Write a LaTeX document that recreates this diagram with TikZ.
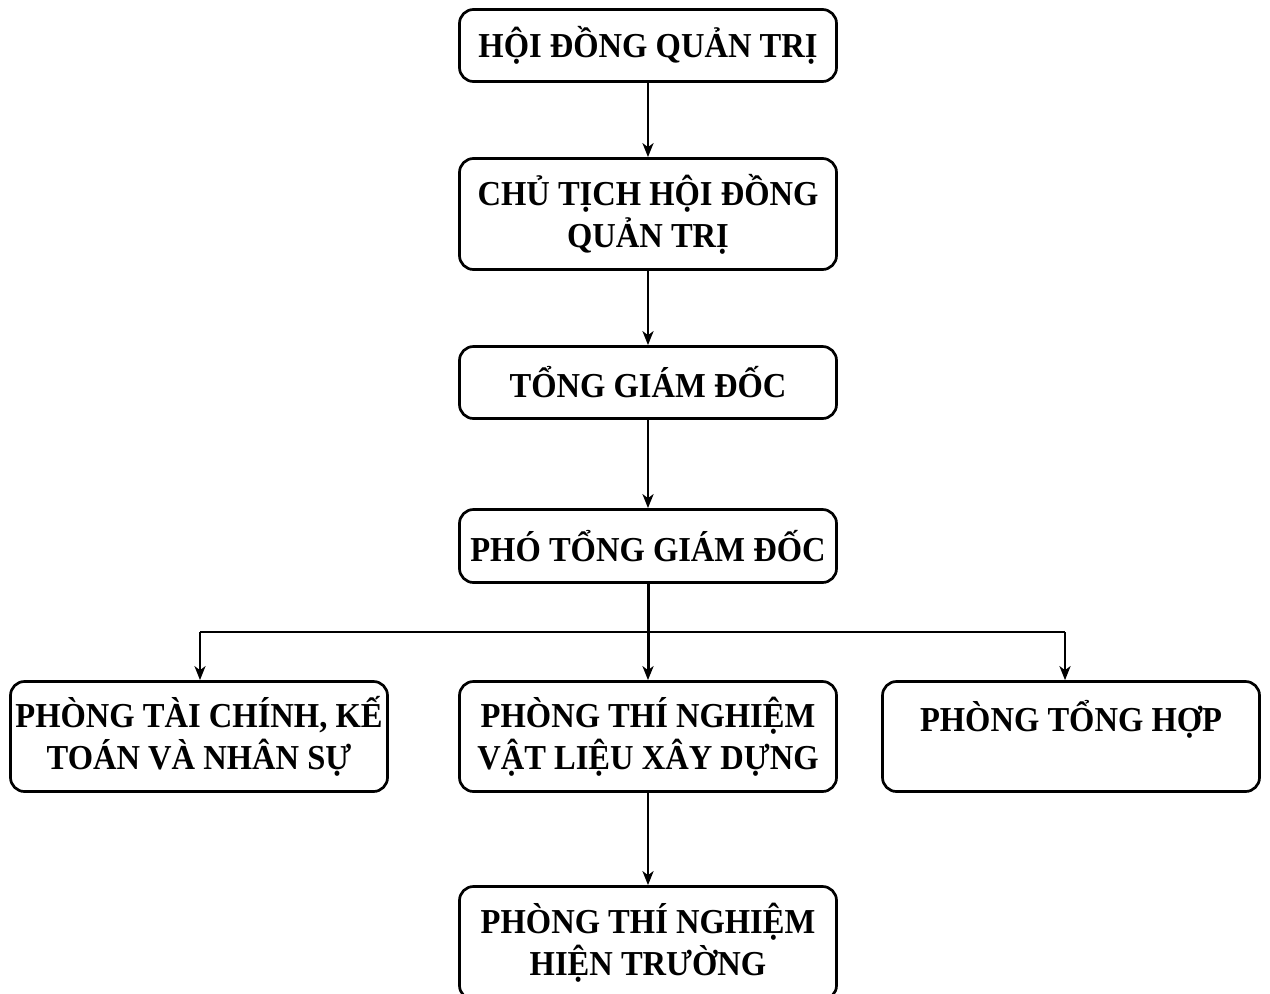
\documentclass[tikz,border=0pt]{standalone}
\usepackage{fontspec}
\setmainfont[FakeStretch=0.93]{Liberation Serif}
\usetikzlibrary{arrows.meta}
\begin{document}
\begin{tikzpicture}[x=1pt,y=-1pt,
  box/.style={draw, line width=2.7pt, rounded corners=14pt, minimum width=377pt,
    inner sep=0pt, align=center, font=\fontsize{35}{42}\selectfont\bfseries},
  conn/.style={line width=2.6pt, -{Stealth[length=14pt,width=11pt,inset=4pt]}},
  hline/.style={line width=2.6pt}]
\useasboundingbox (0,0) rectangle (1270,994);
\node[box, minimum height=72pt] (b1) at (648,45.5) {HỘI ĐỒNG QUẢN TRỊ};
\node[box, minimum height=111pt] (b2) at (648,214) {CHỦ TỊCH HỘI ĐỒNG\\QUẢN TRỊ};
\node[box, minimum height=72pt] (b3) at (648,382.5) {TỔNG GIÁM ĐỐC};
\node[box, minimum height=73pt] (b4) at (648,546) {PHÓ TỔNG GIÁM ĐỐC};
\node[box, minimum height=110pt] (b5) at (199,736.5) {PHÒNG TÀI CHÍNH, KẾ\\TOÁN VÀ NHÂN SỰ};
\node[box, minimum height=110pt] (b6) at (648,736.5) {PHÒNG THÍ NGHIỆM\\VẬT LIỆU XÂY DỰNG};
\node[box, minimum height=110pt] (b7) at (1071,736.5) {PHÒNG TỔNG HỢP\\\mbox{}};
\node[box, minimum height=113pt] (b8) at (648,943) {PHÒNG THÍ NGHIỆM\\HIỆN TRƯỜNG};
\coordinate (hl) at (200,632);
\coordinate (hr) at (1065,632);
\draw[conn] (b1.south) -- (b2.north);
\draw[conn] (b2.south) -- (b3.north);
\draw[conn] (b3.south) -- (b4.north);
\draw[conn, line width=3pt] (b4.south) -- (b6.north);
\draw[hline] (hl) -- (hr);
\draw[conn] (hl) -- (hl |- b5.north);
\draw[conn] (hr) -- (hr |- b7.north);
\draw[conn] (b6.south) -- (b8.north);
\end{tikzpicture}
\end{document}
